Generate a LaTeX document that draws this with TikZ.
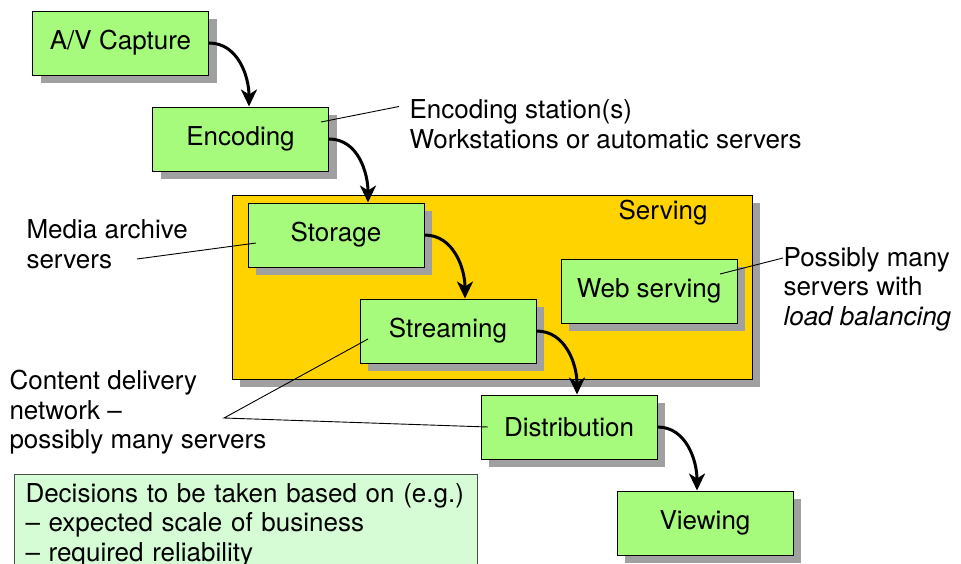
\documentclass[tikz,border=0pt]{standalone}
\usepackage{fontspec}
\setmainfont{TeX Gyre Heros}
\usetikzlibrary{arrows.meta,shadows}
\definecolor{vihrea}{RGB}{166,250,124}
\definecolor{keltainen}{RGB}{255,211,0}
\definecolor{harmaa}{RGB}{160,160,160}
\definecolor{minttu}{RGB}{213,252,213}

\begin{document}
\begin{tikzpicture}[x=1pt,y=1pt,
		every node/.style={font=\fontsize{26}{29.5}\selectfont},
		varjo/.style={drop shadow={shadow xshift=8pt,shadow yshift=-8pt,fill=harmaa,opacity=1}},
		vaihe/.style={draw=black,line width=1pt,fill=vihrea,minimum width=176pt,minimum height=64pt,varjo},
		kulku/.style={line width=3pt,-{Stealth[length=17pt,width=16pt,inset=5pt]}},
		viiva/.style={line width=0.9pt},
		selite/.style={align=left,anchor=west}]
				\clip (0,0) rectangle (961,-563);
				\node[vaihe] (capture) at (120.5,-43) {A/V Capture};
				\node[vaihe] (encoding) at (240.5,-139) {Encoding};
				\node[draw=black,line width=1pt,fill=keltainen,minimum width=520pt,minimum height=184pt,varjo] (serving) at (492,-287) {};
				\node (servlabel) at (663,-213) {Serving};
				\node[vaihe] (storage) at (336,-235) {Storage};
				\node[vaihe] (streaming) at (448,-331) {Streaming};
				\node[vaihe] (web) at (649,-291) {Web serving};
				\node[vaihe] (distribution) at (569,-427) {Distribution};
				\node[vaihe] (viewing) at (705,-523) {Viewing};
				\node[selite] (enclabel) at (406,-124) {Encoding station(s)\\Workstations or automatic servers};
				\node[selite] (medialabel) at (23,-244) {Media archive\\servers};
				\node[selite] (webnote) at (780,-289) {Possibly many\\servers with\\\textit{load balancing}};
				\node[selite] (cdnlabel) at (6,-412.5) {Content delivery\\network –\\possibly many servers};
				\node[draw=black!70,line width=1pt,fill=minttu,anchor=north west,align=left,text width=441pt,inner xsep=11pt,inner ysep=9pt] (decide) at (14,-474) {Decisions to be taken based on (e.g.)\\– expected scale of business\\– required reliability};
				\coordinate (cdnjoin) at (224,-418);
				\draw[kulku] (capture.east) to[out=0,in=90] ([xshift=8.5]encoding.north);
				\draw[kulku] (encoding.east) to[out=0,in=90] ([xshift=32]storage.north);
				\draw[kulku] (storage.east) to[out=0,in=90] ([xshift=17]streaming.north);
				\draw[kulku] (streaming.east) to[out=0,in=90] ([xshift=8]distribution.north);
				\draw[kulku] (distribution.east) to[out=0,in=90] ([xshift=-8]viewing.north);
				\draw[viiva] ([shift={(80.5,17)}]encoding.center) -- ([shift={(-7,17.5)}]enclabel.west);
				\draw[viiva] ([shift={(114,-15)}]medialabel.west) -- ([shift={(-80,-8)}]storage.center);
				\draw[viiva] ([shift={(71,17)}]web.center) -- ([shift={(3,31)}]webnote.west);
				\draw[viiva] ([shift={(-80,-8)}]streaming.center) -- (cdnjoin) -- ([xshift=-81]distribution.center);
			\end{tikzpicture}
\end{document}
